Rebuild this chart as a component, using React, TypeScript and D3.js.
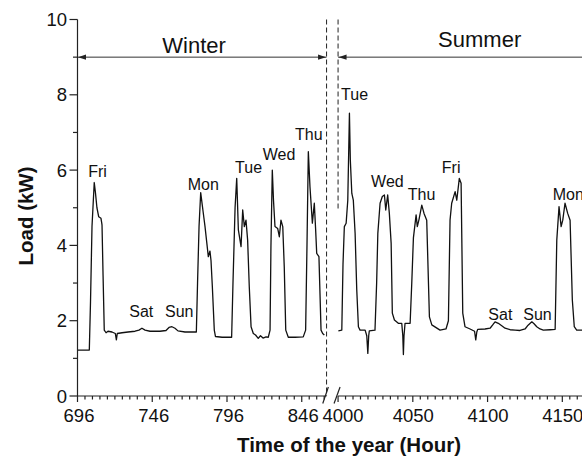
import React from 'react';
import * as d3 from 'd3';

// ---- data ----
const winterHours = [696, 703.9, 704.7, 705.7, 707.2, 708.0, 709.0, 710.2, 711.7, 712.2, 712.4, 713.1, 713.9, 715.1, 716.4, 719.1, 721.3, 722.0, 722.6, 725.8, 729.8, 734.5, 737.1, 739.1, 741.2, 744.5, 751.2, 755.2, 757.2, 759.2, 761.2, 763.2, 767.9, 772.6, 775.5, 776.3, 777.3, 778.4, 780.0, 781.3, 782.4, 783.5, 784.6, 785.3, 786.2, 787.5, 788.3, 792.7, 799.1, 800.0, 801.4, 802.5, 803.6, 805.4, 806.5, 807.6, 808.7, 809.8, 810.9, 812.1, 813.6, 815.1, 816.9, 818.4, 820.1, 822.1, 823.6, 824.8, 825.4, 826.3, 827.1, 828.1, 829.9, 831.0, 832.1, 833.3, 834.3, 835.3, 837.0, 841.5, 847.0, 848.6, 849.5, 850.4, 851.5, 853.1, 854.4, 855.3, 856.0, 857.5, 858.9, 860.0, 861.1];
const winterLoad = [1.22, 1.22, 2.5, 4.5, 5.67, 5.4, 5.0, 4.76, 4.72, 4.6, 4.54, 3.2, 1.75, 1.68, 1.72, 1.70, 1.66, 1.49, 1.66, 1.68, 1.70, 1.72, 1.75, 1.80, 1.75, 1.72, 1.72, 1.74, 1.82, 1.84, 1.80, 1.73, 1.70, 1.70, 1.70, 3.0, 4.5, 5.4, 4.9, 4.5, 4.1, 3.7, 3.85, 3.6, 2.9, 1.75, 1.58, 1.56, 1.56, 3.0, 5.0, 5.78, 4.41, 3.97, 4.94, 4.5, 4.67, 4.14, 2.9, 1.84, 1.66, 1.62, 1.53, 1.6, 1.54, 1.57, 1.56, 1.75, 4.0, 6.0, 5.2, 4.5, 4.45, 4.23, 4.67, 4.5, 3.43, 1.75, 1.56, 1.56, 1.57, 1.75, 4.0, 6.49, 5.56, 4.59, 5.12, 4.41, 3.79, 3.7, 1.75, 1.66, 1.62];

const summerHours = [4000.2, 4002.5, 4003.3, 4004.2, 4005.4, 4006.5, 4007.6, 4008.2, 4009.2, 4010.2, 4011.4, 4012.5, 4013.6, 4014.7, 4018.1, 4019.2, 4019.9, 4020.5, 4020.9, 4024.7, 4025.8, 4026.6, 4028.1, 4029.6, 4031.0, 4031.9, 4033.2, 4034.3, 4035.5, 4036.3, 4037.7, 4040.3, 4042.6, 4043.3, 4043.7, 4044.1, 4044.8, 4048.2, 4049.3, 4050.4, 4052.2, 4053.0, 4054.2, 4056.0, 4057.5, 4059.3, 4061.1, 4062.7, 4068.2, 4072.2, 4073.8, 4074.9, 4076.0, 4078.3, 4079.4, 4081.1, 4082.3, 4083.4, 4084.9, 4088.3, 4091.3, 4092.1, 4092.8, 4093.4, 4098.3, 4101.7, 4103.7, 4105.0, 4107.2, 4109.7, 4111.7, 4115.1, 4118.4, 4121.7, 4125.1, 4127.1, 4129.6, 4131.1, 4132.9, 4135.1, 4137.3, 4141.8, 4145.2, 4146.3, 4147.8, 4149.2, 4150.3, 4151.8, 4153.6, 4155.2, 4156.7, 4158.0, 4159.6, 4163.2, 4168.6];
const summerLoad = [1.73, 1.75, 3.5, 4.5, 4.59, 5.2, 7.51, 6.27, 5.38, 5.2, 4.32, 2.82, 1.84, 1.75, 1.75, 1.6, 1.13, 1.6, 1.73, 1.75, 3.0, 4.32, 5.12, 5.3, 5.34, 4.94, 5.34, 4.85, 4.06, 2.2, 2.02, 1.93, 1.93, 1.6, 1.10, 1.6, 1.93, 1.93, 3.0, 4.2, 4.81, 4.5, 4.7, 5.07, 4.85, 4.67, 2.1, 1.89, 1.75, 1.78, 2.0, 4.67, 5.12, 5.43, 5.2, 5.78, 5.65, 2.2, 1.84, 1.78, 1.72, 1.49, 1.7, 1.77, 1.78, 1.8, 1.9, 1.97, 1.93, 1.86, 1.8, 1.76, 1.75, 1.74, 1.78, 1.88, 1.97, 1.92, 1.84, 1.78, 1.75, 1.76, 1.77, 4.14, 5.03, 4.5, 4.67, 5.12, 4.85, 4.67, 2.55, 1.84, 1.75, 1.75, 1.75];

const yTicks = [0, 2, 4, 6, 8, 10];
const winterTicks = [696, 746, 796, 846];
const summerTicks = [4000, 4050, 4100, 4150];

const seasonNames = ['Winter', 'Summer'];
const seasonHours = [752.7, 4066.9];
const seasonLoads = [9.1, 9.27];

const winterDays = ['Fri', 'Sat', 'Sun', 'Mon', 'Tue', 'Wed', 'Thu'];
const winterDayHours = [703.2, 730.6, 754.5, 769.7, 801.4, 819.9, 841.5];
const winterDayLoads = [5.82, 2.09, 2.11, 5.47, 5.91, 6.27, 6.80];
const summerDays = ['Tue', 'Wed', 'Thu', 'Fri', 'Sat', 'Sun', 'Mon'];
const summerDayHours = [4002, 4022.1, 4046.6, 4069.4, 4100.5, 4123.9, 4143.6];
const summerDayLoads = [7.86, 5.54, 5.21, 5.91, 2.02, 2.02, 5.21];

const FONT = '"Liberation Sans", Arial, Helvetica, sans-serif';

export default function App() {
  const W = 582, H = 457;
  const pxPerHour = 1.495;
  const x0 = 77.5;
  const winterEnd = 862.6;
  const breakL = x0 + (winterEnd - 696) * pxPerHour;
  const breakR = breakL + 11.5;
  const xW = d3.scaleLinear().domain([696, winterEnd]).range([x0, breakL]);
  const xS = d3.scaleLinear().domain([4000, 4200]).range([breakR, breakR + 200 * pxPerHour]);
  const y = d3.scaleLinear().domain([0, 10]).range([396, 19.5]);
  const yBase = y(0);

  const winterPts: [number, number][] = winterHours.map((h, i) => [h, winterLoad[i]]);
  const summerPts: [number, number][] = summerHours.map((h, i) => [h, summerLoad[i]]);
  const lineW = d3.line<[number, number]>().x(d => xW(d[0])).y(d => y(d[1]));
  const lineS = d3.line<[number, number]>().x(d => xS(d[0])).y(d => y(d[1]));

  const wMinor = d3.range(696, winterEnd, 5).filter(v => !winterTicks.includes(v));
  const sMinor = d3.range(4005, 4200, 5).filter(v => !summerTicks.includes(v));
  const yMinor = d3.range(1, 10, 2);

  const ink = '#111';
  const axisColor = '#222';
  const arrowY = y(9);

  const arrowHead = (xTip: number, dir: number, key: string) => (
    <path key={key} d={`M${xTip},${arrowY} L${xTip + dir * 8},${arrowY - 2.6} L${xTip + dir * 8},${arrowY + 2.6} Z`} fill="#222" />
  );

  return (
    <svg width={W} height={H} style={{ position: 'absolute', left: 0, top: 0, background: '#fff' }} fontFamily={FONT}>
      <rect x={0} y={0} width={W} height={H} fill="#fff" />
      {/* data lines */}
      <path d={lineW(winterPts) || ''} fill="none" stroke={ink} strokeWidth={1.3} strokeLinejoin="round" />
      <path d={lineS(summerPts) || ''} fill="none" stroke={ink} strokeWidth={1.3} strokeLinejoin="round" />

      {/* dashed separators */}
      <line x1={breakL} x2={breakL} y1={y(10)} y2={yBase} stroke="#222" strokeWidth={1} strokeDasharray="5,3" />
      <line x1={breakR} x2={breakR} y1={y(10)} y2={y(4.95)} stroke="#222" strokeWidth={1} strokeDasharray="5,3" />

      {/* season arrows */}
      <line x1={x0} x2={breakL} y1={arrowY} y2={arrowY} stroke="#333" strokeWidth={1} />
      {arrowHead(x0 + 0.5, 1, 'a1')}
      {arrowHead(breakL - 0.5, -1, 'a2')}
      <line x1={breakR} x2={W + 20} y1={arrowY} y2={arrowY} stroke="#333" strokeWidth={1} />
      {arrowHead(breakR + 0.5, 1, 'a3')}
      <text x={xW(seasonHours[0])} y={y(seasonLoads[0])} fontSize={22} fill={ink}>{seasonNames[0]}</text>
      <text x={xS(seasonHours[1])} y={y(seasonLoads[1])} fontSize={22} fill={ink}>{seasonNames[1]}</text>

      {/* day labels */}
      {winterDays.map((d, i) => (
        <text key={'wd' + i} x={xW(winterDayHours[i])} y={y(winterDayLoads[i])} fontSize={16} fill={ink}>{d}</text>
      ))}
      {summerDays.map((d, i) => (
        <text key={'sd' + i} x={xS(summerDayHours[i])} y={y(summerDayLoads[i])} fontSize={16} fill={ink}>{d}</text>
      ))}

      {/* y axis */}
      <line x1={x0} x2={x0} y1={yBase} y2={y(10)} stroke={axisColor} strokeWidth={1.2} />
      {yTicks.map(t => (
        <g key={'yt' + t}>
          <line x1={x0 - 8} x2={x0} y1={y(t)} y2={y(t)} stroke={axisColor} strokeWidth={1.2} />
          <text x={x0 - 10.5} y={y(t)} dy="0.36em" textAnchor="end" fontSize={18.5} fill={ink}>{t}</text>
        </g>
      ))}
      {yMinor.map(t => (
        <line key={'ym' + t} x1={x0 - 4.5} x2={x0} y1={y(t)} y2={y(t)} stroke={axisColor} strokeWidth={1.2} />
      ))}

      {/* x axis (broken) */}
      <line x1={x0} x2={breakL} y1={yBase} y2={yBase} stroke={axisColor} strokeWidth={1.2} />
      <line x1={breakR} x2={W + 20} y1={yBase} y2={yBase} stroke={axisColor} strokeWidth={1.2} />
      <line x1={breakL - 3.8} y1={yBase + 7.5} x2={breakL + 1.8} y2={yBase - 9} stroke={axisColor} strokeWidth={1.2} />
      <line x1={breakR - 4} y1={yBase + 7.5} x2={breakR + 2} y2={yBase - 9} stroke={axisColor} strokeWidth={1.2} />
      {winterTicks.map(t => (
        <g key={'wt' + t}>
          <line x1={xW(t)} x2={xW(t)} y1={yBase} y2={yBase + 6} stroke={axisColor} strokeWidth={1.2} />
          <text x={xW(t) + 1.5} y={421.7} textAnchor="middle" fontSize={18.5} fill={ink}>{t}</text>
        </g>
      ))}
      {wMinor.map(t => (
        <line key={'wm' + t} x1={xW(t)} x2={xW(t)} y1={yBase} y2={yBase + 3.5} stroke={axisColor} strokeWidth={1.2} />
      ))}
      {summerTicks.map((t, i) => (
        <g key={'st' + t}>
          <line x1={xS(t)} x2={xS(t)} y1={yBase} y2={yBase + 6} stroke={axisColor} strokeWidth={1.2} />
          <text x={xS(t) + (i === 0 ? 5 : 0.5)} y={421.7} textAnchor="middle" fontSize={18.5} fill={ink}>{t}</text>
        </g>
      ))}
      {sMinor.map(t => (
        <line key={'sm' + t} x1={xS(t)} x2={xS(t)} y1={yBase} y2={yBase + 3.5} stroke={axisColor} strokeWidth={1.2} />
      ))}

      {/* axis titles */}
      <text x={349} y={452} textAnchor="middle" fontSize={20.5} fontWeight="bold" fill={ink}>Time of the year (Hour)</text>
      <text transform={`translate(32.5,216) rotate(-90)`} textAnchor="middle" fontSize={20.5} fontWeight="bold" fill={ink}>Load (kW)</text>
    </svg>
  );
}
